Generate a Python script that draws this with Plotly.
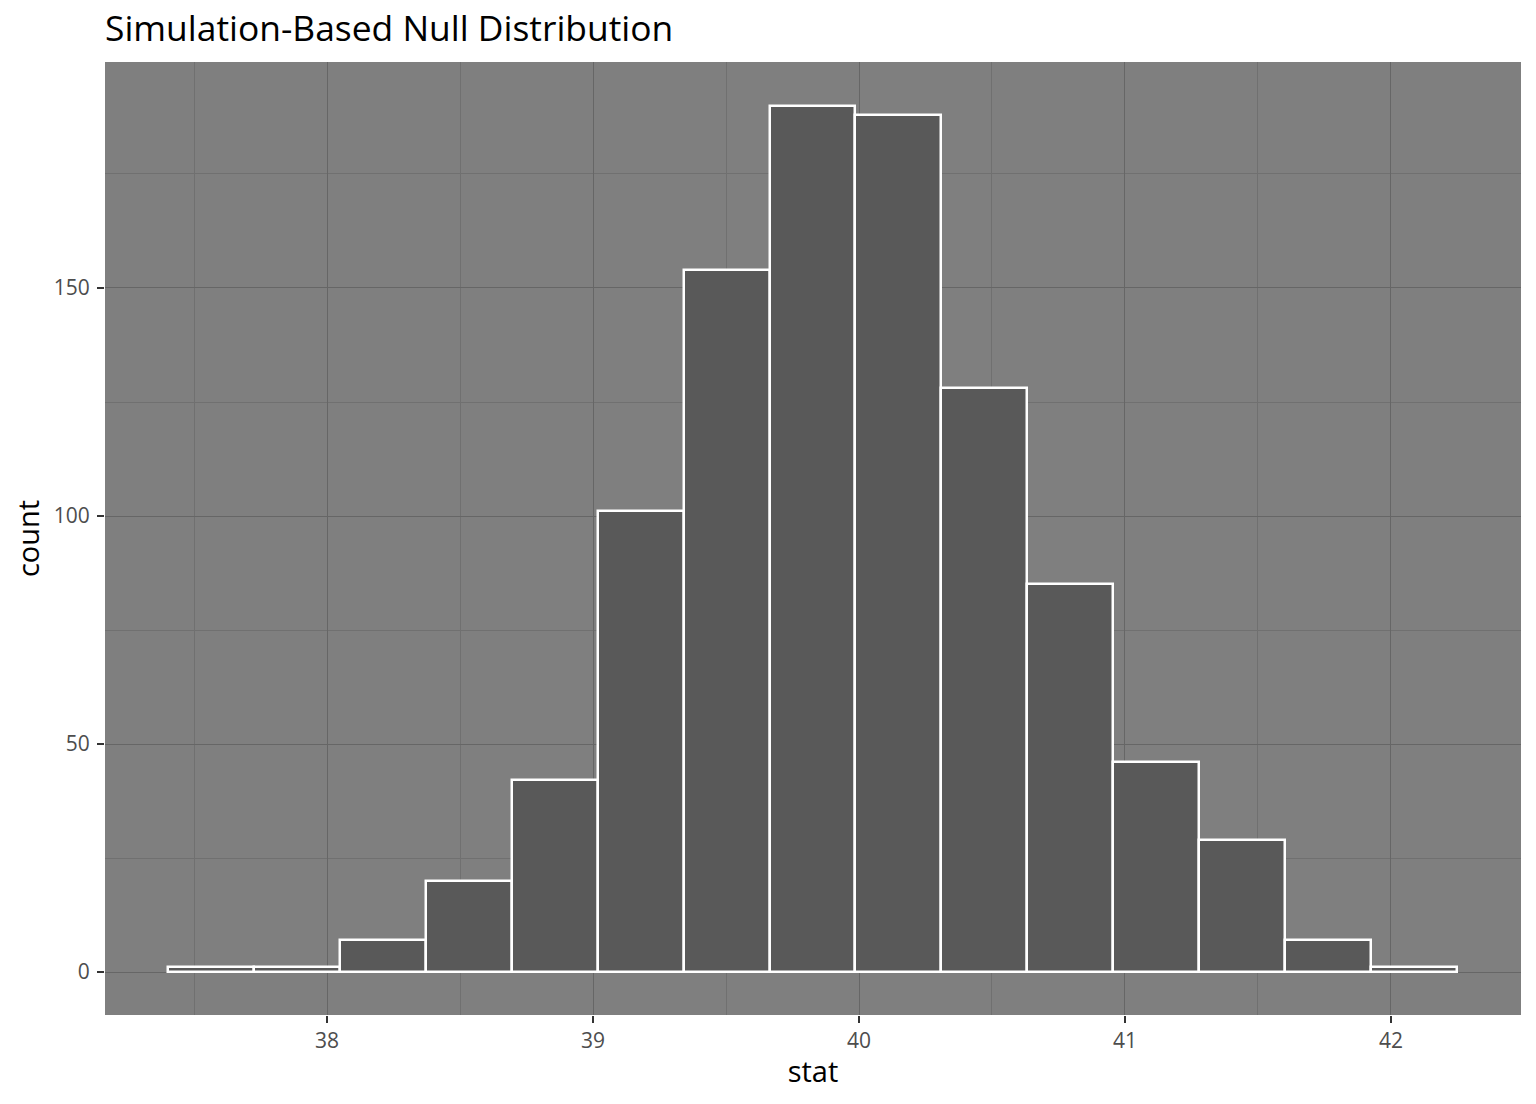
import plotly.graph_objects as go

# histogram bins (15 bins, width ~0.323)
bin_centers = [37.564, 37.887, 38.210, 38.533, 38.856, 39.179, 39.502, 39.825,
               40.148, 40.471, 40.794, 41.117, 41.440, 41.763, 42.086]
counts = [1, 1, 7, 20, 42, 101, 154, 190, 188, 128, 85, 46, 29, 7, 1]
bin_width = 0.3231

x_ticks = [38, 39, 40, 41, 42]
y_ticks = [0, 50, 100, 150]

FONT = "Open Sans"

fig = go.Figure()
fig.add_trace(go.Bar(
    x=bin_centers,
    y=counts,
    width=bin_width,
    marker=dict(color="#595959", line=dict(color="white", width=2.5)),
    hoverinfo="x+y",
))

# page body adds an 8px offset, so margins are trimmed to compensate
fig.update_layout(
    width=1528,
    height=1096,
    paper_bgcolor="white",
    plot_bgcolor="#7f7f7f",
    margin=dict(l=97, r=15, t=54, b=89),
    showlegend=False,
    bargap=0,
    font=dict(family=FONT, color="black"),
    title=dict(
        text="Simulation-Based Null Distribution",
        x=97 / 1528, xanchor="left",
        y=1 - 21 / 1096, yanchor="middle",
        font=dict(size=35.4, color="black", family=FONT),
    ),
)

fig.update_xaxes(
    range=[37.165, 42.489],
    tickvals=x_ticks,
    ticks="outside", ticklen=7, tickwidth=1.5, tickcolor="#333333",
    tickfont=dict(size=21, color="#4d4d4d"),
    showgrid=True, gridcolor="#666666", gridwidth=1.3,
    minor=dict(dtick=0.5, tick0=37.5, showgrid=True, gridcolor="#707070", gridwidth=0.8, ticks=""),
    zeroline=False, showline=False,
    title=dict(text="stat", font=dict(size=29, color="black"), standoff=8),
)

fig.update_yaxes(
    range=[-9.43, 199.56],
    tickvals=y_ticks,
    ticks="outside", ticklen=7, tickwidth=1.5, tickcolor="#333333",
    tickfont=dict(size=21, color="#4d4d4d"),
    ticklabelstandoff=3,
    showgrid=True, gridcolor="#666666", gridwidth=1.3,
    minor=dict(dtick=25, tick0=25, showgrid=True, gridcolor="#707070", gridwidth=0.8, ticks=""),
    zeroline=False, showline=False,
    title=dict(text="count", font=dict(size=29, color="black"), standoff=8),
)

fig.write_html("out.html")
